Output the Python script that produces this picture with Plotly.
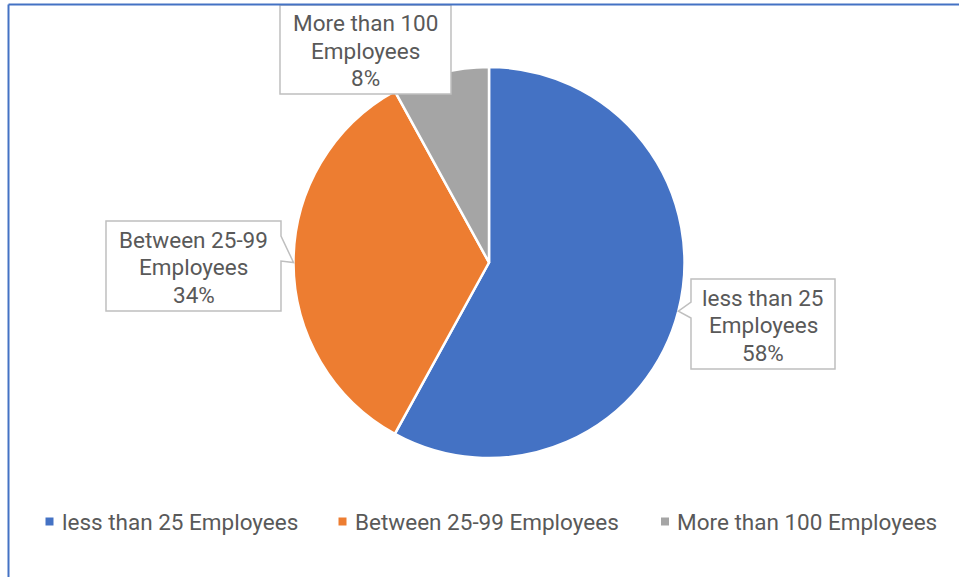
import plotly.graph_objects as go
import math

# Company size distribution
categories = ["less than 25 Employees", "Between 25-99 Employees", "More than 100 Employees"]
label_lines = [["less than 25", "Employees"], ["Between 25-99", "Employees"], ["More than 100", "Employees"]]
shares = [58, 34, 8]
colors = ["#4472C4", "#ED7D31", "#A5A5A5"]

W, H = 959, 577
FONT = "Roboto"
FONT_SIZE = 22.5
LINE_GAP = 27.5
TEXT_COLOR = "#595959"
BOX_LINE = "#BFBFBF"

# pie geometry in pixels
CX, CY, R = 489.0, 262.5, 195.5


def px(x):
    return x / W


def py(y):
    return 1 - y / H


fig = go.Figure()
fig.add_trace(go.Pie(
    labels=categories,
    values=shares,
    sort=False,
    direction="clockwise",
    rotation=0,
    marker=dict(colors=colors, line=dict(color="white", width=2.5)),
    textinfo="none",
    hovertemplate="%{label}: %{percent}<extra></extra>",
    showlegend=False,
    domain=dict(x=[px(CX - R), px(CX + R)], y=[py(CY + R), py(CY - R)]),
))

# callout boxes: (left, top, right, bottom), pointer side, pointer base y-range
callouts = [
    dict(box=(691, 279, 835, 369), side="left", base=(302, 318)),
    dict(box=(106, 221, 281, 311), side="right", base=(236, 261)),
    dict(box=(280, 5, 451, 94), side=None, base=None),
]

total = sum(shares)
start = 0.0
shapes = []
annotations = []
for i, (val, c) in enumerate(zip(shares, callouts)):
    frac_mid = (start + val / 2) / total
    start += val
    ang = 2 * math.pi * frac_mid
    tip = (CX + R * math.sin(ang), CY - R * math.cos(ang))
    x0, y0, x1, y1 = c["box"]
    if c["side"] == "left":
        b0, b1 = c["base"]
        pts = [(x0, y0), (x1, y0), (x1, y1), (x0, y1), (x0, b1), tip, (x0, b0)]
    elif c["side"] == "right":
        b0, b1 = c["base"]
        pts = [(x0, y0), (x1, y0), (x1, b0), tip, (x1, b1), (x1, y1), (x0, y1)]
    else:
        pts = [(x0, y0), (x1, y0), (x1, y1), (x0, y1)]
    path = "M " + " L ".join(f"{px(x):.5f},{py(y):.5f}" for x, y in pts) + " Z"
    shapes.append(dict(type="path", xref="paper", yref="paper", path=path,
                       fillcolor="white", line=dict(color=BOX_LINE, width=1.5)))
    lines = label_lines[i] + [f"{val}%"]
    cy = (y0 + y1) / 2 + 1
    for k, line in enumerate(lines):
        annotations.append(dict(
            xref="paper", yref="paper",
            x=px((x0 + x1) / 2), y=py(cy + (k - 1) * LINE_GAP),
            xanchor="center", yanchor="middle",
            text=line, showarrow=False,
            font=dict(family=FONT, size=FONT_SIZE, color=TEXT_COLOR),
        ))

# legend row
legend_y = 521.5
legend_x = [49.5, 342.5, 665.0]
for name, col, lx in zip(categories, colors, legend_x):
    shapes.append(dict(type="rect", xref="paper", yref="paper",
                       x0=px(lx - 4), x1=px(lx + 4), y0=py(legend_y + 4), y1=py(legend_y - 4),
                       fillcolor=col, line=dict(width=0)))
    annotations.append(dict(
        xref="paper", yref="paper", x=px(lx + 10), y=py(legend_y),
        xanchor="left", yanchor="middle", text=name, showarrow=False,
        font=dict(family=FONT, size=FONT_SIZE, color=TEXT_COLOR),
    ))

# chart frame (top and left edges visible)
shapes.append(dict(type="line", xref="paper", yref="paper",
                   x0=px(8.5), y0=py(4.5), x1=1.0, y1=py(4.5),
                   line=dict(color="#4472C4", width=2)))
shapes.append(dict(type="line", xref="paper", yref="paper",
                   x0=px(8.5), y0=py(4.5), x1=px(8.5), y1=0.0,
                   line=dict(color="#4472C4", width=2)))

fig.update_layout(
    width=W, height=H, autosize=False,
    margin=dict(l=0, r=0, t=0, b=0),
    paper_bgcolor="white", plot_bgcolor="white",
    shapes=shapes, annotations=annotations,
)

fig.write_html("out.html")
